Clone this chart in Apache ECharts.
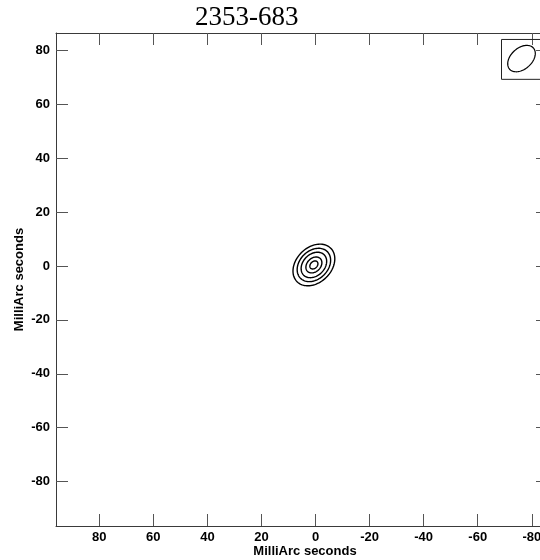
<!DOCTYPE html>
<html>
<head>
<meta charset="utf-8">
<script src="https://cdn.jsdelivr.net/npm/echarts@6/dist/echarts.min.js"></script>
<style>
  html, body { margin: 0; padding: 0; background: #fff; }
  #chart { width: 540px; height: 560px; }
</style>
</head>
<body>
<div id="chart"></div>
<script>
// Map extent (milliarcseconds); RA offset increases to the left
const xRange = [-86, 96];
const yRange = [-96.5, 86.5];
const xTickValues = [80, 60, 40, 20, 0, -20, -40, -60, -80];
const yTickValues = [80, 60, 40, 20, 0, -20, -40, -60, -80];

// Source contours: Gaussian component at the phase centre
const sourceCenter = [0.6, 0.4];
const contourMajor = [8.8, 7.0, 5.35, 3.35, 1.7];
const contourMinor = [6.5, 5.25, 4.0, 2.5, 1.25];
const contourPA = [-45, -45, -45, -45, -45];

// Restoring beam and its box (top-right corner)
const beamCenter = [-76.2, 77.0];
const beamMajor = 5.9;
const beamMinor = 3.9;
const beamPA = -48;
const beamBox = [-68.8, 84.1, -84.5, 69.3]; // x1, y1, x2, y2

const chart = echarts.init(document.getElementById('chart'), null, { renderer: 'canvas' });

// Ellipse outline in pixel space, from data-space axes through the axis scales
function ellipsePoints(api, cx, cy, a, b, paDeg) {
  const pa = paDeg * Math.PI / 180;
  const ux = Math.sin(pa), uy = Math.cos(pa);   // major axis direction
  const vx = Math.cos(pa), vy = -Math.sin(pa);  // minor axis direction
  const pts = [];
  const n = 96;
  for (let k = 0; k < n; k++) {
    const t = 2 * Math.PI * k / n;
    const ca = Math.cos(t) * a, sb = Math.sin(t) * b;
    pts.push(api.coord([cx + ca * ux + sb * vx, cy + ca * uy + sb * vy]));
  }
  return pts;
}

const labelFont = { color: '#000', fontFamily: 'Liberation Sans', fontWeight: 'bold', fontSize: 13 };
const frameLine = { color: '#3a3a3a', width: 1 };
const tickLine = { color: '#555', width: 1 };

function xAxisDef(pos, showLabels) {
  return {
    type: 'value', position: pos, inverse: true,
    min: xRange[0], max: xRange[1],
    axisLine: { show: true, onZero: false, lineStyle: frameLine },
    axisTick: { show: true, inside: true, length: 12, customValues: xTickValues, lineStyle: tickLine },
    axisLabel: Object.assign({ show: showLabels, customValues: xTickValues, margin: 5 }, labelFont),
    splitLine: { show: false },
    name: showLabels ? 'MilliArc seconds' : '',
    nameLocation: 'middle', nameGap: 19, nameMoveOverlap: false,
    nameTextStyle: Object.assign({ padding: [0, 0, 0, 6] }, labelFont)
  };
}
function yAxisDef(pos, showLabels) {
  return {
    type: 'value', position: pos,
    min: yRange[0], max: yRange[1],
    axisLine: { show: true, onZero: false, lineStyle: frameLine },
    axisTick: { show: true, inside: true, length: 12, customValues: yTickValues, lineStyle: tickLine },
    axisLabel: Object.assign({ show: showLabels, customValues: yTickValues, margin: 6 }, labelFont),
    splitLine: { show: false },
    name: showLabels ? 'MilliArc seconds' : '',
    nameLocation: 'middle', nameGap: 30, nameMoveOverlap: false,
    nameTextStyle: labelFont
  };
}

const contourData = contourMajor.map((a, i) =>
  [sourceCenter[0], sourceCenter[1], a, contourMinor[i], contourPA[i]]);

const option = {
  animation: false,
  backgroundColor: '#fff',
  title: {
    text: '2353-683', left: 195, top: 4, padding: 0,
    textStyle: { fontFamily: 'Liberation Serif', fontSize: 27, fontWeight: 'normal', color: '#000' }
  },
  grid: { left: 56, top: 33, width: 492, height: 493, outerBoundsMode: 'none' },
  xAxis: [xAxisDef('bottom', true), xAxisDef('top', false)],
  yAxis: [yAxisDef('left', true), yAxisDef('right', false)],
  series: [
    {
      type: 'custom', name: 'contours', xAxisIndex: 0, yAxisIndex: 0,
      encode: { x: 0, y: 1 }, clip: false,
      data: contourData,
      renderItem: function (params, api) {
        return {
          type: 'polygon',
          shape: { points: ellipsePoints(api, api.value(0), api.value(1), api.value(2), api.value(3), api.value(4)) },
          style: { fill: 'none', stroke: '#000', lineWidth: 1.4 }
        };
      }
    },
    {
      type: 'custom', name: 'beam', xAxisIndex: 0, yAxisIndex: 0,
      encode: { x: 0, y: 1 }, clip: false,
      data: [[beamCenter[0], beamCenter[1], beamMajor, beamMinor, beamPA]],
      renderItem: function (params, api) {
        const p1 = api.coord([beamBox[0], beamBox[1]]);
        const p2 = api.coord([beamBox[2], beamBox[3]]);
        return {
          type: 'group',
          children: [
            {
              type: 'rect',
              shape: { x: Math.min(p1[0], p2[0]), y: Math.min(p1[1], p2[1]),
                       width: Math.abs(p2[0] - p1[0]), height: Math.abs(p2[1] - p1[1]) },
              style: { fill: 'none', stroke: '#222', lineWidth: 1 }
            },
            {
              type: 'polygon',
              shape: { points: ellipsePoints(api, api.value(0), api.value(1), api.value(2), api.value(3), api.value(4)) },
              style: { fill: 'none', stroke: '#000', lineWidth: 1.2 }
            }
          ]
        };
      }
    }
  ]
};

chart.setOption(option);
</script>
</body>
</html>
